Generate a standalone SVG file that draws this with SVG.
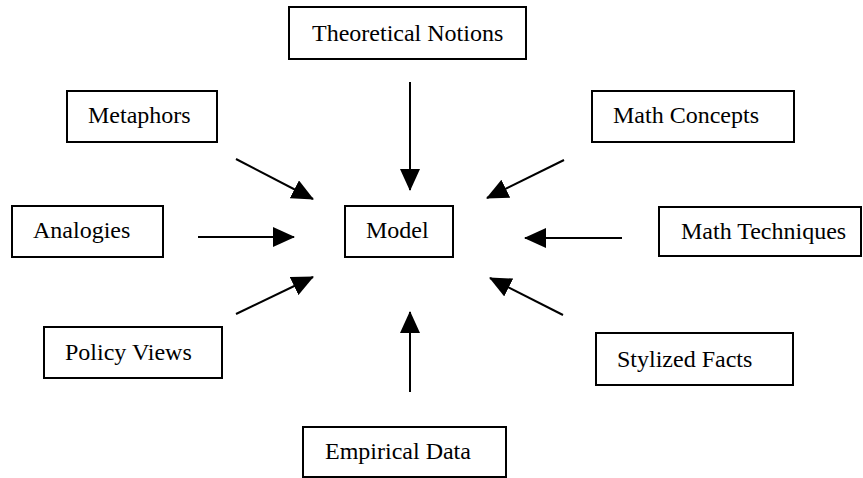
<svg xmlns="http://www.w3.org/2000/svg" width="863" height="478" viewBox="0 0 863 478">
  <style>
    .box { fill: #ffffff; stroke: #000000; stroke-width: 2; }
    .lbl { font-family: "Liberation Serif", "Times New Roman", serif; font-size: 24px; fill: #000000; }
    .arr { stroke: #000000; stroke-width: 2; fill: none; marker-end: url(#head); }
  </style>
  <defs>
    <marker id="head" markerUnits="userSpaceOnUse" markerWidth="22" markerHeight="20" refX="21" refY="10" orient="auto">
      <path d="M0,0 L22,10 L0,20 Z" fill="#000000"/>
    </marker>
  </defs>
  <rect width="863" height="478" fill="#ffffff"/>

  <g id="connectors">
    <line class="arr" x1="410" y1="82" x2="410" y2="190"/>
    <line class="arr" x1="236" y1="159" x2="313" y2="199"/>
    <line class="arr" x1="564" y1="160" x2="487" y2="198"/>
    <line class="arr" x1="198" y1="237" x2="294" y2="237"/>
    <line class="arr" x1="622" y1="238" x2="525" y2="238"/>
    <line class="arr" x1="236" y1="314" x2="313" y2="277"/>
    <line class="arr" x1="563" y1="315" x2="490" y2="278"/>
    <line class="arr" x1="410" y1="392" x2="410" y2="312"/>
  </g>

  <g id="theoretical-notions">
    <rect class="box" x="289" y="7" width="237" height="52"/>
    <text class="lbl" x="312" y="41">Theoretical Notions</text>
  </g>
  <g id="metaphors">
    <rect class="box" x="67" y="91" width="150" height="51"/>
    <text class="lbl" x="88" y="123">Metaphors</text>
  </g>
  <g id="math-concepts">
    <rect class="box" x="592" y="91" width="202" height="51"/>
    <text class="lbl" x="613" y="123">Math Concepts</text>
  </g>
  <g id="analogies">
    <rect class="box" x="12" y="206" width="151" height="51"/>
    <text class="lbl" x="33" y="238">Analogies</text>
  </g>
  <g id="model">
    <rect class="box" x="345" y="206" width="108" height="51"/>
    <text class="lbl" x="366" y="238">Model</text>
  </g>
  <g id="math-techniques">
    <rect class="box" x="659" y="207" width="202" height="49"/>
    <text class="lbl" x="681" y="239">Math Techniques</text>
  </g>
  <g id="policy-views">
    <rect class="box" x="44" y="327" width="178" height="51"/>
    <text class="lbl" x="65" y="360">Policy Views</text>
  </g>
  <g id="stylized-facts">
    <rect class="box" x="596" y="333" width="197" height="52"/>
    <text class="lbl" x="617" y="367">Stylized Facts</text>
  </g>
  <g id="empirical-data">
    <rect class="box" x="303" y="427" width="203" height="50"/>
    <text class="lbl" x="325" y="459">Empirical Data</text>
  </g>
</svg>
